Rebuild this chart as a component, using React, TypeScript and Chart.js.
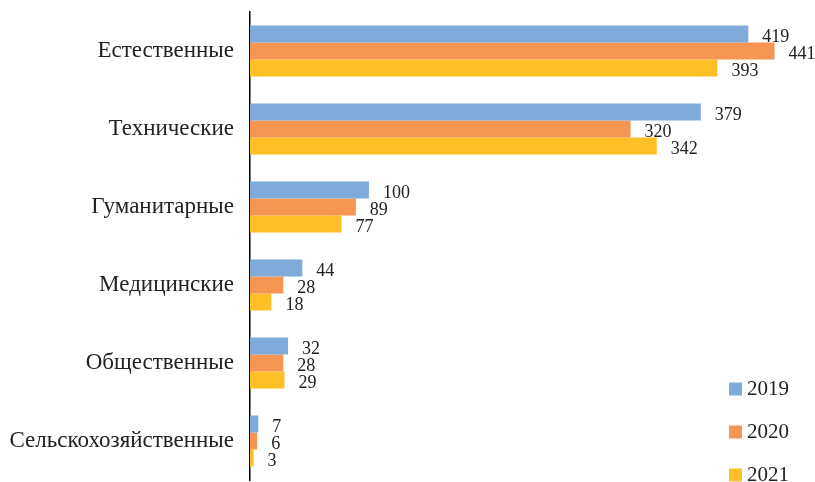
import React, { useEffect, useRef } from "react";
import { Chart, registerables } from "chart.js";

Chart.register(...registerables);

const categories = ["Естественные", "Технические", "Гуманитарные", "Медицинские", "Общественные", "Сельскохозяйственные"];
const years = ["2019", "2020", "2021"];
const values2019 = [419, 379, 100, 44, 32, 7];
const values2020 = [441, 320, 89, 28, 28, 6];
const values2021 = [393, 342, 77, 18, 29, 3];
const colors = ["#7FABDB", "#F79552", "#FFBF27"];

const SERIF = "Liberation Serif";

const valueLabels = {
  id: "valueLabels",
  afterDatasetsDraw(chart: any) {
    const ctx = chart.ctx;
    ctx.save();
    ctx.font = `18px "${SERIF}"`;
    ctx.fillStyle = "#222";
    ctx.textAlign = "left";
    ctx.textBaseline = "middle";
    chart.data.datasets.forEach((ds: any, i: number) => {
      const meta = chart.getDatasetMeta(i);
      meta.data.forEach((bar: any, j: number) => {
        ctx.fillText(String(ds.data[j]), bar.x + 14, bar.y + 3);
      });
    });
    ctx.restore();
  },
};

const customLegend = {
  id: "customLegend",
  afterDraw(chart: any) {
    const ctx = chart.ctx;
    ctx.save();
    ctx.font = `21px "${SERIF}"`;
    ctx.textAlign = "left";
    ctx.textBaseline = "middle";
    const ys = [389, 432, 475];
    chart.data.datasets.forEach((ds: any, i: number) => {
      ctx.fillStyle = ds.backgroundColor;
      ctx.fillRect(729, ys[i] - 6.5, 13, 13);
      ctx.fillStyle = "#222";
      ctx.fillText(ds.label, 747, ys[i]);
    });
    ctx.restore();
  },
};

export default function App() {
  const ref = useRef<HTMLCanvasElement>(null);
  useEffect(() => {
    if (!ref.current) return;
    const chart = new Chart(ref.current, {
      type: "bar",
      data: {
        labels: categories,
        datasets: [
          { label: years[0], data: values2019, backgroundColor: colors[0] },
          { label: years[1], data: values2020, backgroundColor: colors[1] },
          { label: years[2], data: values2021, backgroundColor: colors[2] },
        ],
      },
      options: {
        indexAxis: "y",
        animation: false,
        responsive: false,
        maintainAspectRatio: false,
        layout: { padding: { top: 12, bottom: 2, left: 0, right: 6 } },
        datasets: { bar: { barPercentage: 1, categoryPercentage: 0.654 } },
        plugins: { legend: { display: false }, tooltip: { enabled: false } },
        scales: {
          x: { display: false, min: 0, max: 470 },
          y: {
            afterFit(scale: any) {
              scale.width = 250;
              scale.paddingTop = 0;
              scale.paddingBottom = 0;
            },
            grid: { display: false, drawTicks: false },
            border: { display: true, color: "#000", width: 1.5 },
            ticks: { color: "#222", font: { family: `"${SERIF}"`, size: 23 }, padding: 16 },
          },
        },
      } as any,
      plugins: [valueLabels, customLegend],
    });
    return () => chart.destroy();
  }, []);
  return (
    <div style={{ position: "fixed", left: 0, top: 0, width: 815, height: 482, background: "#fff" }}>
      <canvas ref={ref} width={815} height={482} style={{ display: "block" }} />
    </div>
  );
}
